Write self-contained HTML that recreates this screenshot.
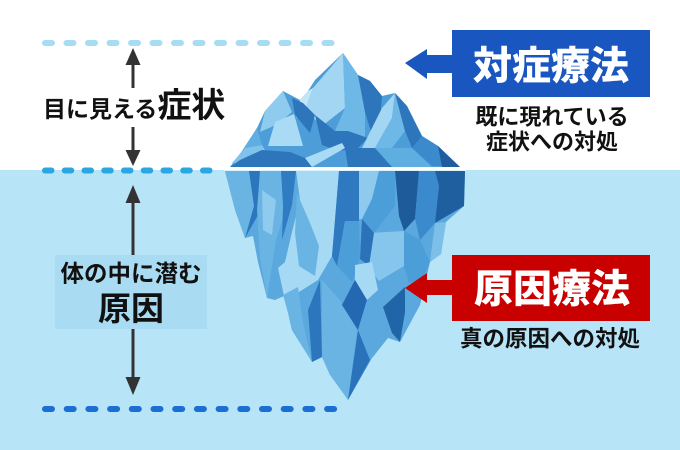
<!DOCTYPE html>
<html><head><meta charset="utf-8"><style>
html,body{margin:0;padding:0;background:#fff;}
svg{display:block;}
text{font-family:"Liberation Sans","Noto Sans CJK JP",sans-serif;font-weight:700;}
</style></head><body>
<svg width="680" height="450" viewBox="0 0 680 450" xmlns="http://www.w3.org/2000/svg">
<rect width="680" height="450" fill="#ffffff"/>
<rect y="170" width="680" height="280" fill="#b8e4f8"/>

<!-- dashed lines -->
<line x1="45" y1="43" x2="331.5" y2="43" stroke="#a6dcf4" stroke-width="6" stroke-linecap="round" stroke-dasharray="7 14.5"/>
<line x1="45" y1="170.5" x2="210" y2="170.5" stroke="#2aa7e1" stroke-width="6" stroke-linecap="round" stroke-dasharray="6.5 13.25"/>
<line x1="45" y1="409" x2="334.5" y2="409" stroke="#1b6fd3" stroke-width="6" stroke-linecap="round" stroke-dasharray="7 14.7"/>

<!-- vertical arrows -->
<g fill="#333333" stroke="none">
<rect x="131.5" y="62" width="3" height="26"/>
<polygon points="133,48 125.5,65 140.5,65"/>
<rect x="131.5" y="127" width="3" height="25"/>
<polygon points="125.5,150 140.5,150 133,166"/>
<polygon points="133,185 125.5,203 140.5,203"/>
<rect x="131.5" y="200" width="3" height="55"/>
<rect x="131.5" y="329" width="3" height="50"/>
<polygon points="125.5,377 140.5,377 133,395"/>
</g>

<!-- bottom label box -->
<rect x="55" y="255" width="152" height="74" fill="#a9dcf2"/>

<!-- iceberg above water -->
<g>
<polygon fill="#4d9dd9" points="230,167 242,151 257,128 265,111 283,91 300,100 308,91 315,80 343,53 358,75 370,81 382,96 395,93 407,106 422,136 438,146 460,167"/>
<polygon fill="#a3d6f2" points="343,53 313,88 305,110 322,126 345,108"/>
<polygon fill="#c2e6f8" points="313,88 308,91 300,100 296,118 305,110"/>
<polygon fill="#6db8e6" points="343,53 345,108 335,131 350,145 365,140 365,112 358,75"/>
<polygon fill="#2d76bc" points="358,75 370,81 382,96 380,120 372,135 365,112"/>
<polygon fill="#8fcbee" points="283,91 265,111 260,132 278,124 292,112"/>
<polygon fill="#a9dbf4" points="275,122 294,114 303,146 268,146"/>
<polygon fill="#2d76bc" points="292,98 303,103 315,115 310,133 295,115"/>
<polygon fill="#7fc2ec" points="232,163 245,148 262,145 268,155 245,165"/>
<polygon fill="#5eaee2" points="242,151 257,128 262,145 245,148"/>
<polygon fill="#2d76bc" points="315,115 335,131 348,131 368,138 358,148 338,151 322,145"/>
<polygon fill="#a3d6f2" points="395,93 382,108 372,128 362,148 375,148 392,118"/>
<polygon fill="#6db8e6" points="395,93 392,118 375,148 392,148 405,131"/>
<polygon fill="#2d76bc" points="395,93 407,106 422,136 412,148 405,131"/>
<polygon fill="#3a8acd" points="422,136 438,146 458,166 432,166 412,148"/>
<polygon fill="#1f5d9e" points="438,146 460,167 442,167"/>
<polygon fill="#2d76bc" points="240,160 262,150 290,152 305,158 312,167 230,167"/>
<polygon fill="#2d76bc" points="345,148 375,148 392,158 398,167 348,167"/>
<polygon fill="#5eaee2" points="375,148 412,148 432,167 392,167"/>
<polygon fill="#a9dbf4" points="305,158 342,143 345,148 312,167"/>
</g>
<rect x="224" y="167.5" width="242" height="3" fill="#ffffff"/>

<!-- iceberg under water -->
<g>
<polygon fill="#5aa8de" points="225,171 465,171 464,206 446,222 441,254 430,262 420,305 400,342 388,338 372,358 348,400 337,363 330,375 322,357 312,362 292,330 284,296 275,300 267,298 258,262 253,236 245,238 235,210"/>
<polygon fill="#6ab4e4" points="225,171 249,171 254,206 245,238 235,209"/>
<polygon fill="#2c76bd" points="249,171 260,171 262,208 245,238 254,206"/>
<polygon fill="#6ab4e4" points="260,171 281,171 284,215 276,240 267,298 260,258 257,210"/>
<polygon fill="#8ecbee" points="262,190 276,200 272,235 263,230"/>
<polygon fill="#2f7cc3" points="281,171 296,171 292,205 282,240 283,205"/>
<polygon fill="#a6d9f3" points="296,171 339,171 335,220 332,256 318,280 299,292 284,296 278,268 285,262 292,232 300,200"/>
<polygon fill="#6ab4e4" points="297,193 310,223 319,246 315,276 299,266 295,233"/>
<polygon fill="#2e79c0" points="339,171 359,171 359,221 345,221 337,266 332,256 335,220"/>
<polygon fill="#8ecaee" points="359,171 379,171 372,199 362,219 359,219"/>
<polygon fill="#4c9ed9" points="379,171 395,171 395,206 374,233 362,219 372,199"/>
<polygon fill="#1d5b9b" points="395,171 419,171 415,219 404,231 399,216"/>
<polygon fill="#3a8acd" points="419,171 435,171 439,186 435,223 420,240 415,219"/>
<polygon fill="#1f5fa0" points="435,171 465,171 464,206 435,223 439,186"/>
<polygon fill="#7cc0ea" points="435,223 446,222 441,254 430,262"/>
<polygon fill="#86c6ec" points="369,233 404,231 404,266 379,281 365,263"/>
<polygon fill="#4c9ed9" points="404,231 420,240 430,262 422,280 409,283 404,266"/>
<polygon fill="#2c72b8" points="362,219 374,233 369,266 360,259"/>
<polygon fill="#4c9ed9" points="345,221 359,221 360,259 352,282 337,266"/>
<polygon fill="#a6d9f3" points="355,265 372,262 378,290 367,300 355,280"/>
<polygon fill="#6ab4e4" points="283,295 298,287 303,323 312,362 293,330"/>
<polygon fill="#2c76bd" points="308,310 320,280 322,357 312,362"/>
<polygon fill="#6ab4e4" points="322,280 340,300 357,330 348,400 330,375 322,357"/>
<polygon fill="#2368b0" points="342,305 355,280 367,300 358,330"/>
<polygon fill="#2a72ba" points="358,330 370,360 348,400"/>
<polygon fill="#5aa8de" points="358,330 367,300 387,317 388,337 373,357"/>
<polygon fill="#2065a8" points="383,307 405,287 405,313 400,342 392,333"/>
<polygon fill="#5aa8de" points="405,287 420,300 400,342 405,313"/>
</g>

<!-- blue callout -->
<polygon fill="#1a56c0" points="405,63 427,49 427,55 452,55 452,73 427,73 427,79"/>
<rect x="452" y="30" width="198" height="67" fill="#1a56c0"/>
<text x="551" y="79.5" font-size="39" fill="#ffffff" text-anchor="middle" style="font-weight:900">対症療法</text>
<text x="552" y="124.5" font-size="22" fill="#111" text-anchor="middle">既に現れている</text>
<text x="552" y="149.5" font-size="22" fill="#111" text-anchor="middle">症状への対処</text>

<!-- red callout -->
<polygon fill="#c80000" points="405,288 427,273 427,280 452,280 452,295 427,295 427,303"/>
<rect x="452" y="255" width="198" height="66" fill="#c80000"/>
<text x="552" y="302.5" font-size="39" fill="#ffffff" text-anchor="middle" style="font-weight:900">原因療法</text>
<text x="550" y="346.4" font-size="22.5" fill="#111" text-anchor="middle">真の原因への対処</text>

<!-- left labels -->
<text x="43" y="117" fill="#111"><tspan font-size="23">目に見える</tspan><tspan font-size="34">症状</tspan></text>
<text x="131" y="281.4" font-size="23.5" fill="#111" text-anchor="middle">体の中に潜む</text>
<text x="131" y="319.8" font-size="33" fill="#111" text-anchor="middle">原因</text>
</svg>
</body></html>
